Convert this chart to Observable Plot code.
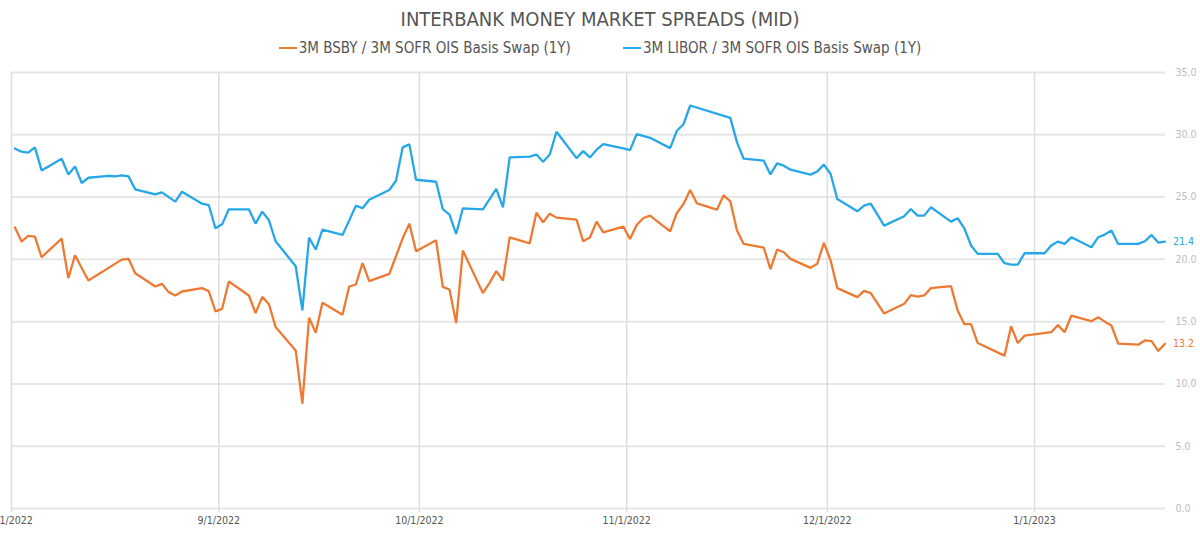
<!DOCTYPE html>
<html>
<head>
<meta charset="utf-8">
<script src="https://cdn.jsdelivr.net/npm/d3@7"></script>
<script src="https://cdn.jsdelivr.net/npm/@observablehq/plot@0.6"></script>
<style>
  html, body { margin: 0; padding: 0; background: #fff; }
  #wrap { width: 1200px; height: 533px; position: relative; overflow: hidden; font-family: "DejaVu Sans Condensed", "Liberation Sans Narrow", Roboto, sans-serif; }
  #title { position: absolute; top: 7px; left: 0; width: 1200px; text-align: center; font-size: 20px; color: #555; }
  #legend { position: absolute; top: 39px; left: 0; width: 1200px; display: flex; justify-content: center; gap: 52px; font-size: 15px; color: #555; }
  .item { display: flex; align-items: center; }
  .sw { display: inline-block; width: 18px; height: 2.5px; margin-right: 2px; }
  #chart { position: absolute; top: 62px; left: 0; }
</style>
</head>
<body>
<div id="wrap">
  <div id="title">INTERBANK MONEY MARKET SPREADS (MID)</div>
  <div id="legend"></div>
  <div id="chart"></div>
</div>
<script>
const seriesNames = ["3M BSBY / 3M SOFR OIS Basis Swap (1Y)", "3M LIBOR / 3M SOFR OIS Basis Swap (1Y)"];
const seriesColors = ["#ED7A33", "#26A8E8"];

const bsbyDates = ["2022-08-01","2022-08-02","2022-08-03","2022-08-04","2022-08-05","2022-08-08","2022-08-09","2022-08-10","2022-08-11","2022-08-12","2022-08-17","2022-08-18","2022-08-19","2022-08-22","2022-08-23","2022-08-24","2022-08-25","2022-08-26","2022-08-29","2022-08-30","2022-08-31","2022-09-01","2022-09-02","2022-09-05","2022-09-06","2022-09-07","2022-09-08","2022-09-09","2022-09-12","2022-09-13","2022-09-14","2022-09-15","2022-09-16","2022-09-19","2022-09-20","2022-09-21","2022-09-22","2022-09-23","2022-09-26","2022-09-27","2022-09-28","2022-09-29","2022-09-30","2022-10-03","2022-10-04","2022-10-05","2022-10-06","2022-10-07","2022-10-10","2022-10-11","2022-10-12","2022-10-13","2022-10-14","2022-10-17","2022-10-18","2022-10-19","2022-10-20","2022-10-21","2022-10-24","2022-10-25","2022-10-26","2022-10-27","2022-10-28","2022-10-31","2022-11-01","2022-11-02","2022-11-03","2022-11-04","2022-11-07","2022-11-08","2022-11-09","2022-11-10","2022-11-11","2022-11-14","2022-11-15","2022-11-16","2022-11-17","2022-11-18","2022-11-21","2022-11-22","2022-11-23","2022-11-24","2022-11-25","2022-11-28","2022-11-29","2022-11-30","2022-12-01","2022-12-02","2022-12-05","2022-12-06","2022-12-07","2022-12-09","2022-12-12","2022-12-13","2022-12-14","2022-12-15","2022-12-16","2022-12-19","2022-12-20","2022-12-21","2022-12-22","2022-12-23","2022-12-27","2022-12-28","2022-12-29","2022-12-30","2023-01-03","2023-01-04","2023-01-05","2023-01-06","2023-01-09","2023-01-10","2023-01-11","2023-01-12","2023-01-13","2023-01-16","2023-01-17","2023-01-18","2023-01-19","2023-01-20"];
const bsbyValues = [22.57,21.43,21.88,21.83,20.17,21.67,18.49,20.33,19.3,18.3,19.98,20.04,18.89,17.82,18.03,17.37,17.1,17.42,17.69,17.45,15.82,16.03,18.22,17.1,15.68,16.99,16.4,14.56,12.69,8.42,15.31,14.11,16.51,15.55,17.82,17.98,19.69,18.25,18.84,20.25,21.69,22.87,20.65,21.53,17.79,17.58,14.88,20.71,17.29,18.11,19.05,18.3,21.77,21.29,23.75,22.98,23.67,23.35,23.19,21.45,21.75,23.03,22.17,22.63,21.64,22.76,23.32,23.51,22.25,23.72,24.44,25.57,24.5,23.99,25.14,24.66,22.31,21.24,20.95,19.21,20.79,20.57,20.04,19.32,19.64,21.32,19.91,17.69,16.97,17.47,17.29,15.66,16.43,17.13,17.0,17.1,17.69,17.85,15.9,14.8,14.8,13.28,12.27,14.62,13.28,13.87,14.15,14.72,14.15,15.49,15.04,15.36,15.0,14.69,13.23,13.15,13.49,13.44,12.64,13.23];

const liborDates = ["2022-08-01","2022-08-02","2022-08-03","2022-08-04","2022-08-05","2022-08-08","2022-08-09","2022-08-10","2022-08-11","2022-08-12","2022-08-15","2022-08-16","2022-08-17","2022-08-18","2022-08-19","2022-08-22","2022-08-23","2022-08-25","2022-08-26","2022-08-29","2022-08-30","2022-08-31","2022-09-01","2022-09-02","2022-09-05","2022-09-06","2022-09-07","2022-09-08","2022-09-09","2022-09-12","2022-09-13","2022-09-14","2022-09-15","2022-09-16","2022-09-19","2022-09-20","2022-09-21","2022-09-22","2022-09-23","2022-09-26","2022-09-27","2022-09-28","2022-09-29","2022-09-30","2022-10-03","2022-10-04","2022-10-05","2022-10-06","2022-10-07","2022-10-10","2022-10-12","2022-10-13","2022-10-14","2022-10-17","2022-10-18","2022-10-19","2022-10-20","2022-10-21","2022-10-24","2022-10-25","2022-10-26","2022-10-27","2022-10-28","2022-10-31","2022-11-01","2022-11-02","2022-11-04","2022-11-07","2022-11-08","2022-11-09","2022-11-10","2022-11-16","2022-11-17","2022-11-18","2022-11-21","2022-11-22","2022-11-23","2022-11-24","2022-11-25","2022-11-28","2022-11-29","2022-11-30","2022-12-01","2022-12-02","2022-12-05","2022-12-06","2022-12-07","2022-12-09","2022-12-12","2022-12-13","2022-12-14","2022-12-15","2022-12-16","2022-12-19","2022-12-20","2022-12-21","2022-12-22","2022-12-23","2022-12-26","2022-12-27","2022-12-28","2022-12-29","2022-12-30","2023-01-02","2023-01-03","2023-01-04","2023-01-05","2023-01-06","2023-01-09","2023-01-10","2023-01-11","2023-01-12","2023-01-13","2023-01-16","2023-01-17","2023-01-18","2023-01-19","2023-01-20"];
const liborValues = [28.9,28.64,28.56,28.99,27.14,28.08,26.82,27.46,26.13,26.55,26.71,26.66,26.74,26.66,25.62,25.22,25.38,24.63,25.43,24.47,24.36,22.49,22.81,24.02,24.02,22.87,23.83,23.14,21.45,19.45,15.9,21.75,20.79,22.39,21.96,23.11,24.31,24.1,24.79,25.57,26.31,28.99,29.23,26.39,26.23,24.04,23.59,22.04,24.1,24.02,25.65,24.18,28.18,28.24,28.42,27.84,28.42,30.24,28.13,28.69,28.18,28.8,29.25,28.9,28.77,30.05,29.76,28.93,30.32,30.85,32.35,31.36,29.39,28.08,27.92,26.82,27.7,27.52,27.2,26.8,27.06,27.6,26.85,24.85,23.86,24.31,24.47,22.71,23.46,24.04,23.51,23.51,24.18,23.03,23.3,22.49,21.11,20.44,20.44,19.69,19.58,19.58,20.49,20.49,21.11,21.43,21.24,21.77,20.97,21.77,21.99,22.31,21.24,21.24,21.45,21.96,21.35,21.43];

const yTicks = [0, 5, 10, 15, 20, 25, 30, 35];
const monthTicks = ["2022-08-01","2022-09-01","2022-10-01","2022-11-01","2022-12-01","2023-01-01"];

const parse = d3.utcParse("%Y-%m-%d");
const noon = s => new Date(parse(s).getTime() + 12 * 3600e3);
const toRows = (name, dates, values) => dates.map((d, i) => ({series: name, date: noon(d), value: values[i]}));
const data = [...toRows(seriesNames[0], bsbyDates, bsbyValues), ...toRows(seriesNames[1], liborDates, liborValues)];
const lasts = seriesNames.map(n => data.filter(d => d.series === n).at(-1));
const fmtDate = d3.utcFormat("%-m/%-d/%Y");
const monthDates = monthTicks.map(parse);

// legend
const legend = document.getElementById("legend");
seriesNames.forEach((n, i) => {
  const it = document.createElement("div");
  it.className = "item";
  it.innerHTML = `<span class="sw" style="background:${seriesColors[i]}"></span><span>${n}</span>`;
  legend.appendChild(it);
});

const chart = Plot.plot({
  width: 1200,
  height: 471,
  marginTop: 10,
  marginBottom: 25,
  marginLeft: 11,
  marginRight: 35,
  style: {fontFamily: "'DejaVu Sans Condensed', 'Liberation Sans Narrow', Roboto, sans-serif", fontSize: "10.5px", background: "white", overflow: "visible"},
  x: {type: "utc", domain: [parse("2022-08-01"), new Date(Date.UTC(2023, 0, 20, 14))], label: null},
  y: {domain: [0, 35], label: null},
  color: {domain: seriesNames, range: seriesColors},
  marks: [
    Plot.gridY(yTicks, {stroke: "#e6e6e6", strokeOpacity: 1, strokeWidth: 2}),
    Plot.gridX(monthDates, {stroke: "#dedede", strokeOpacity: 1, strokeWidth: 1.5}),
    Plot.axisX(monthDates, {tickSize: 4, tickPadding: 4, stroke: "#dedede", strokeWidth: 1.5, fill: "#555", fontSize: 10.5, tickFormat: fmtDate}),
    Plot.axisY(yTicks, {anchor: "right", tickSize: 0, tickPadding: 10, fill: "#bdbdbd", fontSize: 10.5, tickFormat: d => d.toFixed(1)}),
    Plot.line(data, {x: "date", y: "value", z: "series", stroke: "series", strokeWidth: 2.3, strokeLinejoin: "miter"}),
    Plot.text(lasts, {x: "date", y: "value", text: d => d.value.toFixed(1), fill: "series", dx: 8, textAnchor: "start", fontSize: 10.5})
  ]
});
document.getElementById("chart").appendChild(chart);
</script>
</body>
</html>
